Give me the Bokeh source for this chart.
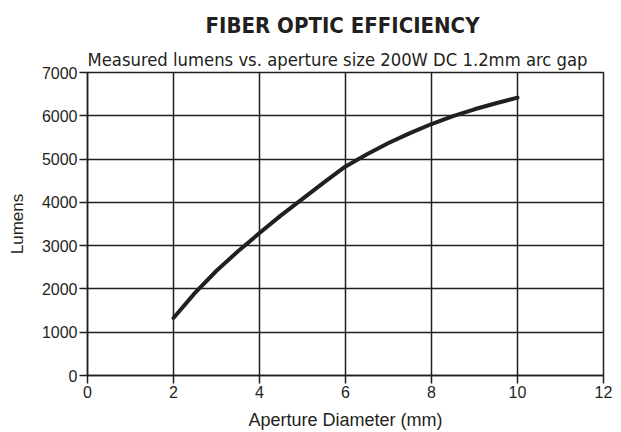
from bokeh.plotting import figure
from bokeh.models import Title, Range1d, FixedTicker
from bokeh.embed import file_html
from bokeh.resources import INLINE

# Data
aperture_mm = [2, 2.5, 3, 3.5, 4, 4.5, 5, 5.5, 6, 6.5, 7, 7.5, 8, 8.5, 9, 9.5, 10]
lumens = [1330, 1910, 2420, 2870, 3290, 3700, 4080, 4460, 4830, 5110, 5370, 5600,
          5810, 5990, 6150, 6290, 6420]
x_ticks = [0, 2, 4, 6, 8, 10, 12]
y_ticks = [0, 1000, 2000, 3000, 4000, 5000, 6000, 7000]

INK = "#231f20"

p = figure(width=613, height=432, output_backend="svg", toolbar_location=None,
           x_range=Range1d(0, 12), y_range=Range1d(0, 7000),
           min_border_left=87, min_border_right=10, min_border_bottom=57, min_border_top=72)

p.add_layout(Title(text="Measured lumens vs. aperture size 200W DC 1.2mm arc gap",
                   text_font="DejaVu Sans Condensed", text_font_size="18.3px",
                   text_font_style="normal", text_color=INK, align="left",
                   offset=0, standoff=5), "above")
p.add_layout(Title(text="FIBER OPTIC EFFICIENCY",
                   text_font="DejaVu Sans Condensed", text_font_size="22px",
                   text_font_style="bold", text_color=INK, align="left",
                   offset=118, standoff=14), "above")

p.line(aperture_mm, lumens, line_width=4, line_color=INK, line_cap="round",
       line_join="round")

for ax in (p.xaxis, p.yaxis):
    ax.axis_line_color = INK
    ax.axis_line_width = 1.5
    ax.major_tick_line_color = INK
    ax.major_tick_line_width = 1.5
    ax.major_tick_out = 8
    ax.major_tick_in = 0
    ax.minor_tick_line_color = None
    ax.major_label_text_font = "Liberation Sans"
    ax.major_label_text_font_size = "16px"
    ax.major_label_text_color = INK
    ax.axis_label_text_font = "Liberation Sans"
    ax.axis_label_text_font_style = "normal"
    ax.axis_label_text_color = INK

p.xaxis.ticker = FixedTicker(ticks=x_ticks)
p.yaxis.ticker = FixedTicker(ticks=y_ticks)
p.xaxis.axis_label = "Aperture Diameter (mm)"
p.yaxis.axis_label = "Lumens"
p.xaxis.major_label_standoff = 2
p.yaxis.major_label_standoff = 2
p.xaxis.axis_label_standoff = 9
p.yaxis.axis_label_standoff = 12
p.xaxis.axis_label_text_font_size = "18px"
p.yaxis.axis_label_text_font_size = "17px"

p.grid.grid_line_color = INK
p.grid.grid_line_width = 1.5
p.grid.grid_line_alpha = 1.0
p.outline_line_color = INK
p.outline_line_width = 1.5
p.outline_line_alpha = 1.0

open("out.html", "w").write(file_html(p, INLINE))
